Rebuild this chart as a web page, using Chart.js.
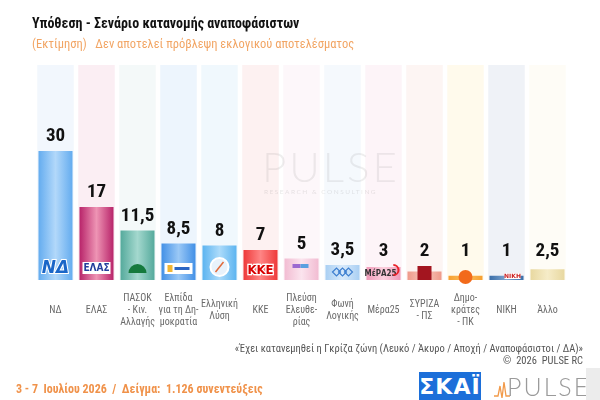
<!DOCTYPE html>
<html>
<head>
<meta charset="utf-8">
<script src="https://cdn.jsdelivr.net/npm/chart.js@4.4.1/dist/chart.umd.min.js"></script>
<style>
  body { margin: 0; background: #fff; }
  #page { position: relative; width: 600px; height: 400px; overflow: hidden; font-family: 'Roboto Condensed', 'Liberation Sans Narrow', Roboto, sans-serif; }
  #wrap { position: absolute; left: 0; top: 0; width: 600px; height: 400px; }
  .txt { position: absolute; white-space: nowrap; }
  #title { left: 32px; top: 15px; font-size: 14px; font-weight: bold; color: #111; }
  #subtitle { left: 32px; top: 36px; font-size: 12.5px; color: #f2a564; }
  #note { right: 17px; top: 343px; font-size: 10.5px; color: #555; text-align: right; line-height: 12px; }
  #footer { left: 16px; top: 382px; font-size: 12px; font-weight: bold; color: #f0924a; }
  #skai { position: absolute; left: 419px; top: 372px; width: 62px; height: 28px; background: #1c6fd9; color: #fff; font: bold 22px 'DejaVu Sans', sans-serif; text-align: center; line-height: 30px; letter-spacing: 1px; }
  #pulse { left: 507px; top: 371px; font-size: 25px; color: #9a9a9a; letter-spacing: 2px; font-family: Lato, sans-serif; font-weight: 300; }
  #mark { left: 262px; top: 141px; font-size: 42px; color: rgba(120,120,120,0.13); letter-spacing: 3px; font-family: Lato, sans-serif; font-weight: 300; }
  #mark2 { left: 264px; top: 188px; font-size: 6.5px; color: rgba(120,120,120,0.18); letter-spacing: 1.5px; font-family: Lato, sans-serif; }
  #corner { position: absolute; left: 586px; top: 368px; width: 14px; height: 32px; background: #ececec; }
</style>
</head>
<body>
<div id="page">
  <div id="wrap"><canvas id="chart"></canvas></div>
  <div class="txt" id="mark">PULSE</div>
  <div class="txt" id="mark2">RESEARCH &amp; CONSULTING</div>
  <div class="txt" id="title">Υπόθεση - Σενάριο κατανομής αναποφάσιστων</div>
  <div class="txt" id="subtitle">(Εκτίμηση)&nbsp;&nbsp;&nbsp;Δεν αποτελεί πρόβλεψη εκλογικού αποτελέσματος</div>
  <div class="txt" id="note">«Έχει κατανεμηθεί η Γκρίζα ζώνη (Λευκό / Άκυρο / Αποχή / Αναποφάσιστοι / ΔΑ)»<br>©&nbsp; 2026&nbsp; PULSE RC</div>
  <div class="txt" id="footer">3 - 7&nbsp; Ιουλίου 2026&nbsp; /&nbsp; Δείγμα:&nbsp; 1.126 συνεντεύξεις</div>
  <div id="skai">ΣΚΑΪ</div>
  <svg style="position:absolute;left:494px;top:378px" width="16" height="22"><polyline points="0,18 4,18 6,8 8,20 10,4 12,18 16,18" fill="none" stroke="#f29a4a" stroke-width="1.3"/></svg>
  <div class="txt" id="pulse">PULSE</div>
  <div id="corner"></div>
</div>
<script>
  // categories (multi-line tick labels) and values
  const parties = [
    ['ΝΔ'], ['ΕΛΑΣ'], ['ΠΑΣΟΚ', '- Κιν.', 'Αλλαγής'], ['Ελπίδα', 'για τη Δη-', 'μοκρατία'],
    ['Ελληνική', 'Λύση'], ['ΚΚΕ'], ['Πλεύση', 'Ελευθε-', 'ρίας'], ['Φωνή', 'Λογικής'],
    ['Μέρα25'], ['ΣΥΡΙΖΑ', '- ΠΣ'], ['Δημο-', 'κράτες', '- ΠΚ'], ['ΝΙΚΗ'], ['Άλλο']
  ];
  const shares = [30, 17, 11.5, 8.5, 8, 7, 5, 3.5, 3, 2, 1, 1, 2.5];
  const axisMax = 50;

  // colours: bar edge, bar centre highlight, pale column behind
  const edgeColors = ['#64acef', '#b8246a', '#55aa9c', '#4290e6', '#5cb4f0', '#ee3a3a', '#f2bcd2',
    '#a9cff3', '#f09ab8', '#ef9a8a', '#f7a030', '#3b6ea8', '#e8d8a0'];
  const midColors = ['#b2d8fa', '#ee94b4', '#a4d8ce', '#9ac8f6', '#acdbfa', '#ff8585', '#fbe4ee',
    '#d8eafb', '#fbd0de', '#f8c8be', '#fbc060', '#7ea6d0', '#f6ecc8'];
  const columnColors = ['#f2f7fd', '#fbeef3', '#f4f9f9', '#edf5fd', '#f0f8fd', '#fdf1f1', '#fdf7fa',
    '#f5f9fd', '#fdf4f8', '#fdf5f3', '#fffaec', '#eff2f7', '#fefcf6'];

  function barFill(ctx) {
    const chart = ctx.chart;
    const i = ctx.dataIndex;
    if (!chart.chartArea || !chart.scales.x) return edgeColors[i];
    const x = chart.scales.x.getPixelForValue(i);
    const g = chart.ctx.createLinearGradient(x - 17, 0, x + 17, 0);
    g.addColorStop(0, edgeColors[i]);
    g.addColorStop(0.5, midColors[i]);
    g.addColorStop(1, edgeColors[i]);
    return g;
  }

  // pale full-height column behind each party
  const columnsPlugin = {
    id: 'columns',
    beforeDatasetsDraw(chart) {
      const { ctx, chartArea, scales } = chart;
      const w = scales.x.width / parties.length * 0.89;
      ctx.save();
      parties.forEach((p, i) => {
        const x = scales.x.getPixelForValue(i);
        ctx.fillStyle = columnColors[i];
        ctx.fillRect(x - w / 2, chartArea.top, w, chartArea.bottom - chartArea.top);
      });
      ctx.restore();
    }
  };

  // rough party marks sitting at the foot of each bar
  function drawMark(ctx, i, x, b) {
    ctx.save();
    ctx.textAlign = 'center';
    ctx.textBaseline = 'middle';
    if (i === 0) {
      ctx.font = 'italic bold 17px "DejaVu Sans", sans-serif';
      ctx.lineWidth = 2; ctx.strokeStyle = '#fff';
      ctx.strokeText('ΝΔ', x, b - 11);
      ctx.fillStyle = '#1a66c8'; ctx.fillText('ΝΔ', x, b - 11);
    } else if (i === 1) {
      ctx.fillStyle = '#fff'; ctx.fillRect(x - 14, b - 18, 28, 12);
      ctx.font = 'bold 10px "DejaVu Sans Condensed", sans-serif';
      ctx.fillStyle = '#243f9c'; ctx.fillText('ΕΛΑΣ', x, b - 12);
    } else if (i === 2) {
      ctx.fillStyle = '#157a3d';
      ctx.beginPath(); ctx.arc(x, b - 7, 9, Math.PI, 0); ctx.fill();
    } else if (i === 3) {
      ctx.fillStyle = '#fff'; ctx.fillRect(x - 14, b - 17, 28, 11);
      ctx.fillStyle = '#f2b632'; ctx.fillRect(x - 11, b - 15, 5, 7);
      ctx.fillStyle = '#2c66c4'; ctx.fillRect(x - 4, b - 13, 15, 3);
    } else if (i === 4) {
      ctx.fillStyle = '#e8f2fb'; ctx.strokeStyle = '#fff'; ctx.lineWidth = 2;
      ctx.beginPath(); ctx.arc(x, b - 13, 9, 0, Math.PI * 2); ctx.fill(); ctx.stroke();
      ctx.strokeStyle = '#e06a3a'; ctx.lineWidth = 1.5;
      ctx.beginPath(); ctx.moveTo(x - 4, b - 8); ctx.lineTo(x + 4, b - 18); ctx.stroke();
    } else if (i === 5) {
      ctx.font = 'bold 13px "DejaVu Sans Condensed", sans-serif';
      ctx.lineWidth = 2.5; ctx.strokeStyle = '#fff';
      ctx.strokeText('ΚΚΕ', x, b - 9);
      ctx.fillStyle = '#d80000'; ctx.fillText('ΚΚΕ', x, b - 9);
    } else if (i === 6) {
      ctx.fillStyle = '#9c6ad0'; ctx.fillRect(x - 9, b - 16, 8, 4);
      ctx.fillStyle = '#5aa0e0'; ctx.fillRect(x - 1, b - 16, 8, 4);
    } else if (i === 7) {
      ctx.strokeStyle = '#3d7fd0'; ctx.lineWidth = 1.2;
      for (let k = -1; k <= 1; k++) {
        ctx.beginPath();
        ctx.moveTo(x + k * 6 - 4, b - 8); ctx.lineTo(x + k * 6, b - 12);
        ctx.lineTo(x + k * 6 + 4, b - 8); ctx.lineTo(x + k * 6, b - 4); ctx.closePath(); ctx.stroke();
      }
    } else if (i === 8) {
      ctx.font = 'bold 8px "DejaVu Sans Condensed", sans-serif';
      ctx.fillStyle = '#333'; ctx.fillText('ΜέΡΑ25', x - 3, b - 6);
      ctx.strokeStyle = '#e8222a'; ctx.lineWidth = 2;
      ctx.beginPath(); ctx.arc(x + 10, b - 10, 5, -1.6, 1.6); ctx.stroke();
    } else if (i === 9) {
      ctx.fillStyle = '#a3151f'; ctx.fillRect(x - 7, b - 14, 14, 14);
    } else if (i === 10) {
      ctx.fillStyle = '#f26a1b';
      ctx.beginPath(); ctx.arc(x, b - 3, 7, 0, Math.PI * 2); ctx.fill();
    } else if (i === 11) {
      ctx.fillStyle = '#fff'; ctx.fillRect(x - 2, b - 7, 16, 6);
      ctx.font = 'bold 6px "DejaVu Sans", sans-serif';
      ctx.fillStyle = '#c22'; ctx.fillText('ΝΙΚΗ', x + 6, b - 4);
    }
    ctx.restore();
  }

  const labelsPlugin = {
    id: 'barLabels',
    afterDatasetsDraw(chart) {
      const { ctx } = chart;
      const meta = chart.getDatasetMeta(0);
      meta.data.forEach((bar, i) => {
        drawMark(ctx, i, bar.x, bar.base);
        ctx.save();
        ctx.font = 'bold 19px "Roboto Condensed", "Liberation Sans Narrow", Roboto, sans-serif';
        ctx.fillStyle = '#111';
        ctx.textAlign = 'center';
        ctx.textBaseline = 'bottom';
        const top = Math.min(bar.y, bar.base - 14);
        ctx.fillText(String(shares[i]).replace('.', ','), bar.x, top - 5);
        ctx.restore();
      });
    }
  };

  new Chart(document.getElementById('chart'), {
    type: 'bar',
    data: {
      labels: parties,
      datasets: [{
        data: shares,
        backgroundColor: barFill,
        borderWidth: 0,
        barPercentage: 0.83,
        categoryPercentage: 1
      }]
    },
    options: {
      responsive: true,
      maintainAspectRatio: false,
      animation: false,
      layout: { padding: { left: 35, right: 32, top: 65, bottom: 56 } },
      plugins: { legend: { display: false }, tooltip: { enabled: false } },
      scales: {
        y: { display: false, min: 0, max: axisMax },
        x: {
          grid: { display: false },
          border: { display: false },
          ticks: {
            color: '#6a6a6a',
            padding: 10,
            crossAlign: 'center',
            maxRotation: 0,
            autoSkip: false,
            font: { family: "'Roboto Condensed', 'Liberation Sans Narrow', Roboto, sans-serif", size: 10 }
          }
        }
      }
    },
    plugins: [columnsPlugin, labelsPlugin]
  });
</script>
</body>
</html>
